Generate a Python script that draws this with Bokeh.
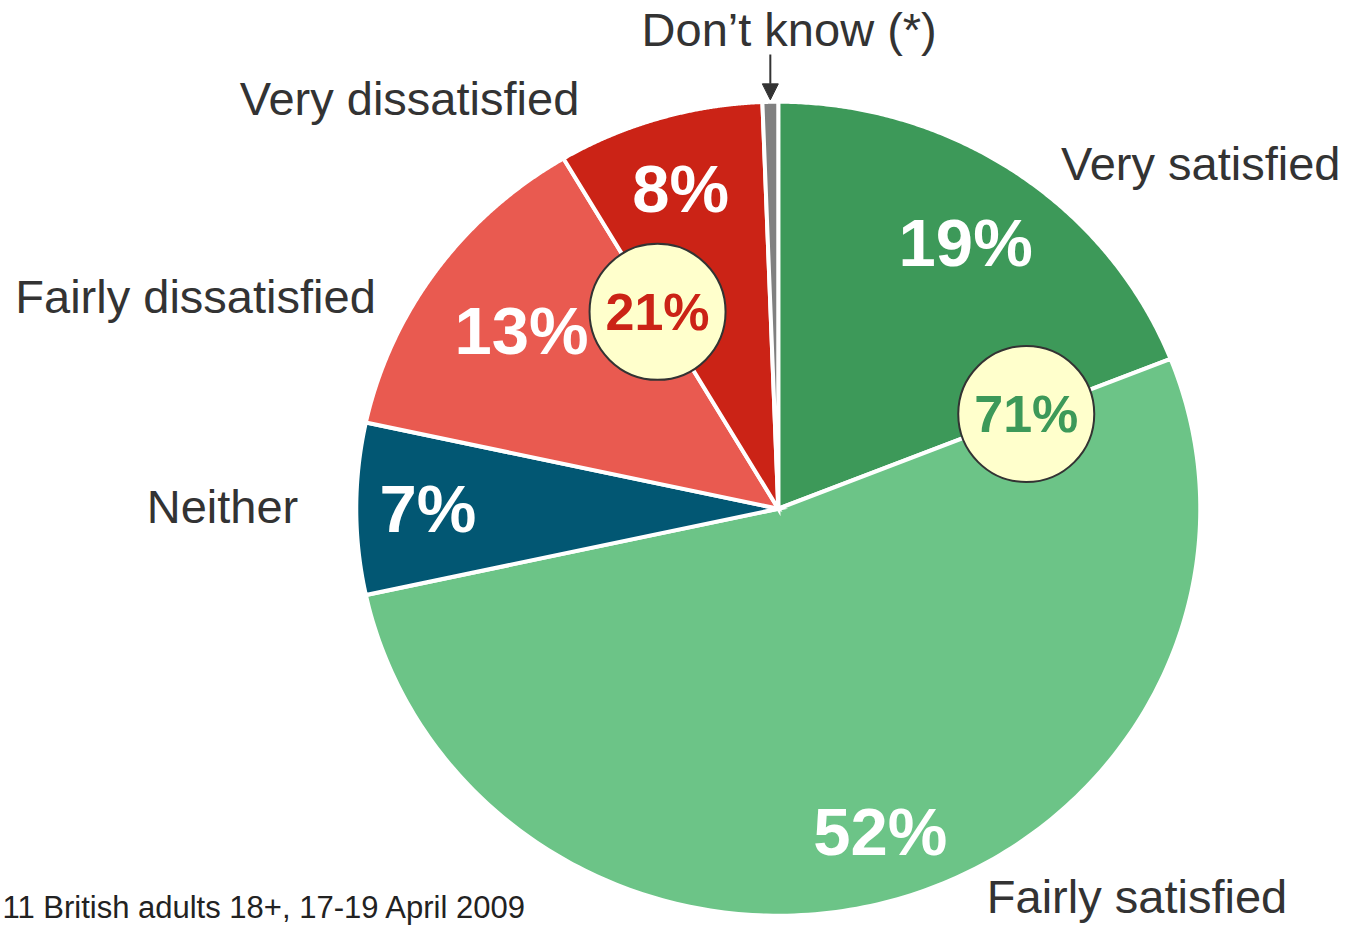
import numpy as np
from bokeh.plotting import figure
from bokeh.models import Range1d, Arrow, NormalHead
from bokeh.embed import file_html
from bokeh.resources import INLINE
from bokeh.core.properties import value

# ---- data ----
categories = ["Very satisfied", "Fairly satisfied", "Neither",
              "Fairly dissatisfied", "Very dissatisfied", "Don\u2019t know (*)"]
shares = [19.0, 52.6, 6.8, 13.1, 7.9, 0.6]
pct_labels = ["19%", "52%", "7%", "13%", "8%", ""]
group_labels = ["71%", "21%"]
group_members = [[0, 1], [3, 4]]
footnote = "11 British adults 18+, 17-19 April 2009"

# ---- styles / layout (layout in reference-pixel coordinates) ----
colors = ["#3D9959", "#6CC487", "#025773", "#E95A50", "#CB2316", "#808080"]
group_text_colors = ["#3D9959", "#CB2316"]
FONT = value("Liberation Sans")
W, H = 1349, 928
REF_W, REF_H = 1365, 944
cx, cy = 787.0, 517.0
rx, ry = 427.0, 414.0
pct_radius = [0.79, 0.83, 0.83, 0.75, 0.82, 0.0]
group_radius = [0.632, 0.562]
cat_pos = [(1073, 166, "left"), (998, 911, "left"), (148, 515, "left"),
           (15, 301, "left"), (242, 100, "left"), (798, 30, "center")]

p = figure(width=W, height=H, x_range=Range1d(0, REF_W), y_range=Range1d(REF_H, 0),
           output_backend="svg", toolbar_location=None, min_border=0,
           x_axis_location=None, y_axis_location=None)
p.grid.visible = False
p.outline_line_color = None
p.background_fill_color = "white"

total = float(sum(shares))
cum = np.concatenate([[0.0], np.cumsum(shares)]) / total * 2 * np.pi


def pt(theta, r=1.0):
    return cx + r * rx * np.sin(theta), cy - r * ry * np.cos(theta)


xs, ys = [], []
for i in range(len(shares)):
    t = np.linspace(cum[i], cum[i + 1], 200)
    px, py = pt(t)
    xs.append([cx] + list(px))
    ys.append([cy] + list(py))
p.patches(xs, ys, fill_color=colors, line_color="white", line_width=4, line_join="miter")

# percentage labels
lx, ly, lt = [], [], []
for i in range(len(shares)):
    if not pct_labels[i]:
        continue
    mid = (cum[i] + cum[i + 1]) / 2
    x, y = pt(mid, pct_radius[i])
    lx.append(x); ly.append(y); lt.append(pct_labels[i])
p.text(lx, ly, text=lt, text_font=FONT, text_font_size="67px", text_font_style="bold",
       text_color="white", text_align="center", text_baseline="middle")

# group circles
gx, gy = [], []
for k, mem in enumerate(group_members):
    x, y = pt(cum[mem[0] + 1], group_radius[k])
    gx.append(x); gy.append(y)
p.scatter(gx, gy, size=136, fill_color="#FFFFCC", line_color="#333333", line_width=2)
p.text(gx, gy, text=group_labels, text_font=FONT, text_font_size="52px", text_font_style="bold",
       text_color=group_text_colors, text_align="center", text_baseline="middle")

# category labels
for i, (x, y, al) in enumerate(cat_pos):
    p.text([x], [y], text=[categories[i]], text_font=FONT, text_font_size="47px",
           text_color="#333333", text_align=al, text_baseline="middle")

# arrow to "Don't know"
dk = len(shares) - 1
mid = (cum[dk] + cum[dk + 1]) / 2
ax, ay = pt(mid, 1.0)
p.add_layout(Arrow(end=NormalHead(size=16, fill_color="#333333", line_color="#333333"),
                   x_start=ax, y_start=55, x_end=ax, y_end=ay - 2,
                   line_color="#333333", line_width=2))

# footnote
p.text([2], [923], text=[footnote], text_font=FONT, text_font_size="31px",
       text_color="#222222", text_align="left", text_baseline="middle")

open("out.html", "w").write(file_html(p, INLINE))
